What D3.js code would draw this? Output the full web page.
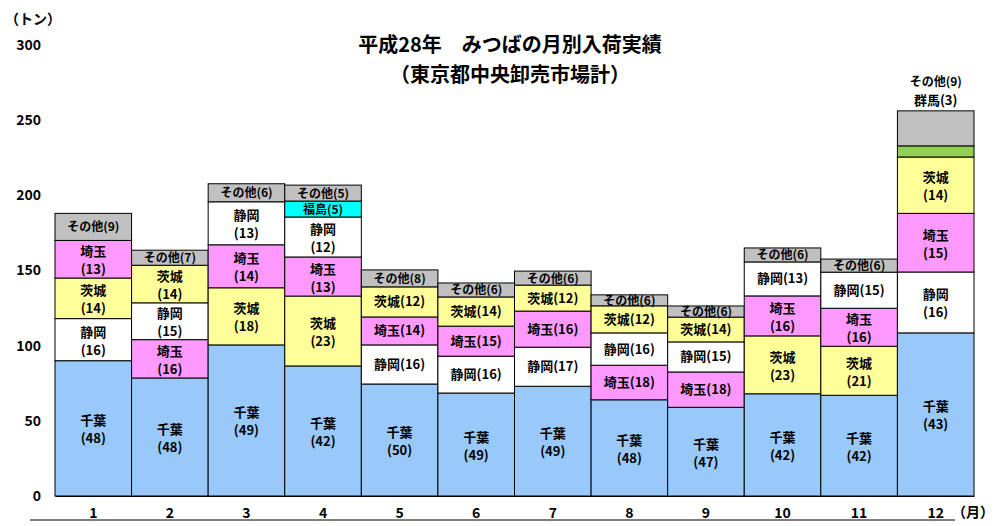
<!DOCTYPE html>
<html><head><meta charset="utf-8">
<script src="https://cdn.jsdelivr.net/npm/d3@7"></script>
<style>body{margin:0;background:#fff}text{font-family:"Noto Sans CJK JP",sans-serif}</style>
</head><body><svg id="c" width="999" height="526"></svg>
<script>
const months = ["1","2","3","4","5","6","7","8","9","10","11","12"];
const yTicks = [0,50,100,150,200,250,300];
const chiba     = [90,78.5,100.5,86.5,74.5,68.5,73,64,59,68,67,108.5];
const shizuoka  = [28,24.5,28.6,26.6,26,24.5,26,21.5,20,22.6,24,40.5];
const saitama   = [25,25.5,28.6,26,18.6,20,24,23,23.5,26.6,25.3,39];
const ibaraki   = [27,25,38,46.5,20,19.4,17.3,18,16.5,38.5,32.6,37.5];
const fukushima = [0,0,0,10.6,0,0,0,0,0,0,0,0];
const gunma     = [0,0,0,0,0,0,0,0,0,0,0,7.4];
const other     = [18,10,12,10.6,11.3,9.3,9.3,7.3,7.4,9.3,8.7,23.3];
const pctChiba = [48,48,49,42,50,49,49,48,47,42,42,43];
const pctShizuoka = [16,15,13,12,16,16,17,16,15,13,15,16];
const pctSaitama = [13,16,14,13,14,15,16,18,18,16,16,15];
const pctIbaraki = [14,14,18,23,12,14,12,12,14,23,21,14];
const pctFukushima = [0,0,0,5,0,0,0,0,0,0,0,0];
const pctGunma = [0,0,0,0,0,0,0,0,0,0,0,3];
const pctOther = [9,7,6,5,8,6,6,6,6,6,6,9];
const stackOrder = [
 ["千葉","静岡","茨城","埼玉","その他"],
 ["千葉","埼玉","静岡","茨城","その他"],
 ["千葉","茨城","埼玉","静岡","その他"],
 ["千葉","茨城","埼玉","静岡","福島","その他"],
 ["千葉","静岡","埼玉","茨城","その他"],
 ["千葉","静岡","埼玉","茨城","その他"],
 ["千葉","静岡","埼玉","茨城","その他"],
 ["千葉","埼玉","静岡","茨城","その他"],
 ["千葉","埼玉","静岡","茨城","その他"],
 ["千葉","茨城","埼玉","静岡","その他"],
 ["千葉","茨城","埼玉","静岡","その他"],
 ["千葉","静岡","埼玉","茨城","群馬","その他"]];
const series = {"千葉":[chiba,pctChiba,"#99c9fb"],"静岡":[shizuoka,pctShizuoka,"#ffffff"],
 "埼玉":[saitama,pctSaitama,"#ff99ff"],"茨城":[ibaraki,pctIbaraki,"#ffff99"],
 "福島":[fukushima,pctFukushima,"#00ffff"],"群馬":[gunma,pctGunma,"#92d050"],"その他":[other,pctOther,"#c0c0c0"]};
const svg=d3.select("#c");
const x=d3.scaleBand().domain(months).range([55,974]).padding(0);
const y=d3.scaleLinear().domain([0,300]).range([496,45]);
svg.append("g").attr("transform","translate(55,0)").call(d3.axisLeft(y).tickValues(yTicks).tickSize(0).tickPadding(14))
 .call(g=>{g.select(".domain").remove();g.selectAll("text").attr("font-size",14).attr("font-weight","bold").attr("font-family","Liberation Sans,Arial");});
svg.append("g").attr("transform","translate(0,496)").call(d3.axisBottom(x).tickSize(0).tickPadding(12))
 .call(g=>{g.select(".domain").attr("stroke","#000");g.selectAll("text").attr("font-size",14).attr("font-weight","bold").attr("font-family","Liberation Sans,Arial");});
svg.append("line").attr("x1",30).attr("x2",955).attr("y1",520).attr("y2",520).attr("stroke","#000");
svg.append("text").attr("x",952).attr("y",517).attr("font-size",14).attr("font-weight","bold").text("（月）");
svg.append("text").attr("x",5).attr("y",24).attr("font-size",14).attr("font-weight","bold").text("（トン）");
svg.append("text").attr("x",510).attr("y",52).attr("text-anchor","middle").attr("font-size",20).attr("font-weight","bold").text("平成28年　みつばの月別入荷実績");
svg.append("text").attr("x",510).attr("y",82).attr("text-anchor","middle").attr("font-size",20).attr("font-weight","bold").text("（東京都中央卸売市場計）");
const twoLineMonths = {"静岡":[0,1,2,3,11],"埼玉":[0,1,2,3,9,10,11],"茨城":[0,1,2,3,9,10,11]};
months.forEach((m,i)=>{
  let base=0;
  stackOrder[i].forEach(name=>{
    const [vals,pcts,col]=series[name];
    const v=vals[i], y0=y(base), y1=y(base+v); base+=v;
    svg.append("rect").attr("x",x(m)).attr("width",x.bandwidth()).attr("y",y1).attr("height",y0-y1)
      .attr("fill",col).attr("stroke","#000").attr("stroke-width",1);
    const cx=x(m)+x.bandwidth()/2, cy=(y0+y1)/2;
    const t=svg.append("g").attr("font-size",(name==="福島"||name==="その他")?12:13).attr("font-weight","bold").attr("text-anchor","middle");
    if(i===11 && (name==="その他"||name==="群馬")){
      t.append("text").attr("x",cx).attr("y",name==="その他"?y(256)-25:y(256)-6).text(name+"("+pcts[i]+")");
      return;
    }
    const two = name==="千葉" || (twoLineMonths[name]||[]).includes(i);
    if(two){
      t.append("text").attr("x",cx).attr("y",cy-3).text(name);
      t.append("text").attr("x",cx).attr("y",cy+15).text("("+pcts[i]+")");
    } else {
      t.append("text").attr("x",cx).attr("y",cy+4.5).text(name+"("+pcts[i]+")");
    }
  });
});
</script></body></html>
